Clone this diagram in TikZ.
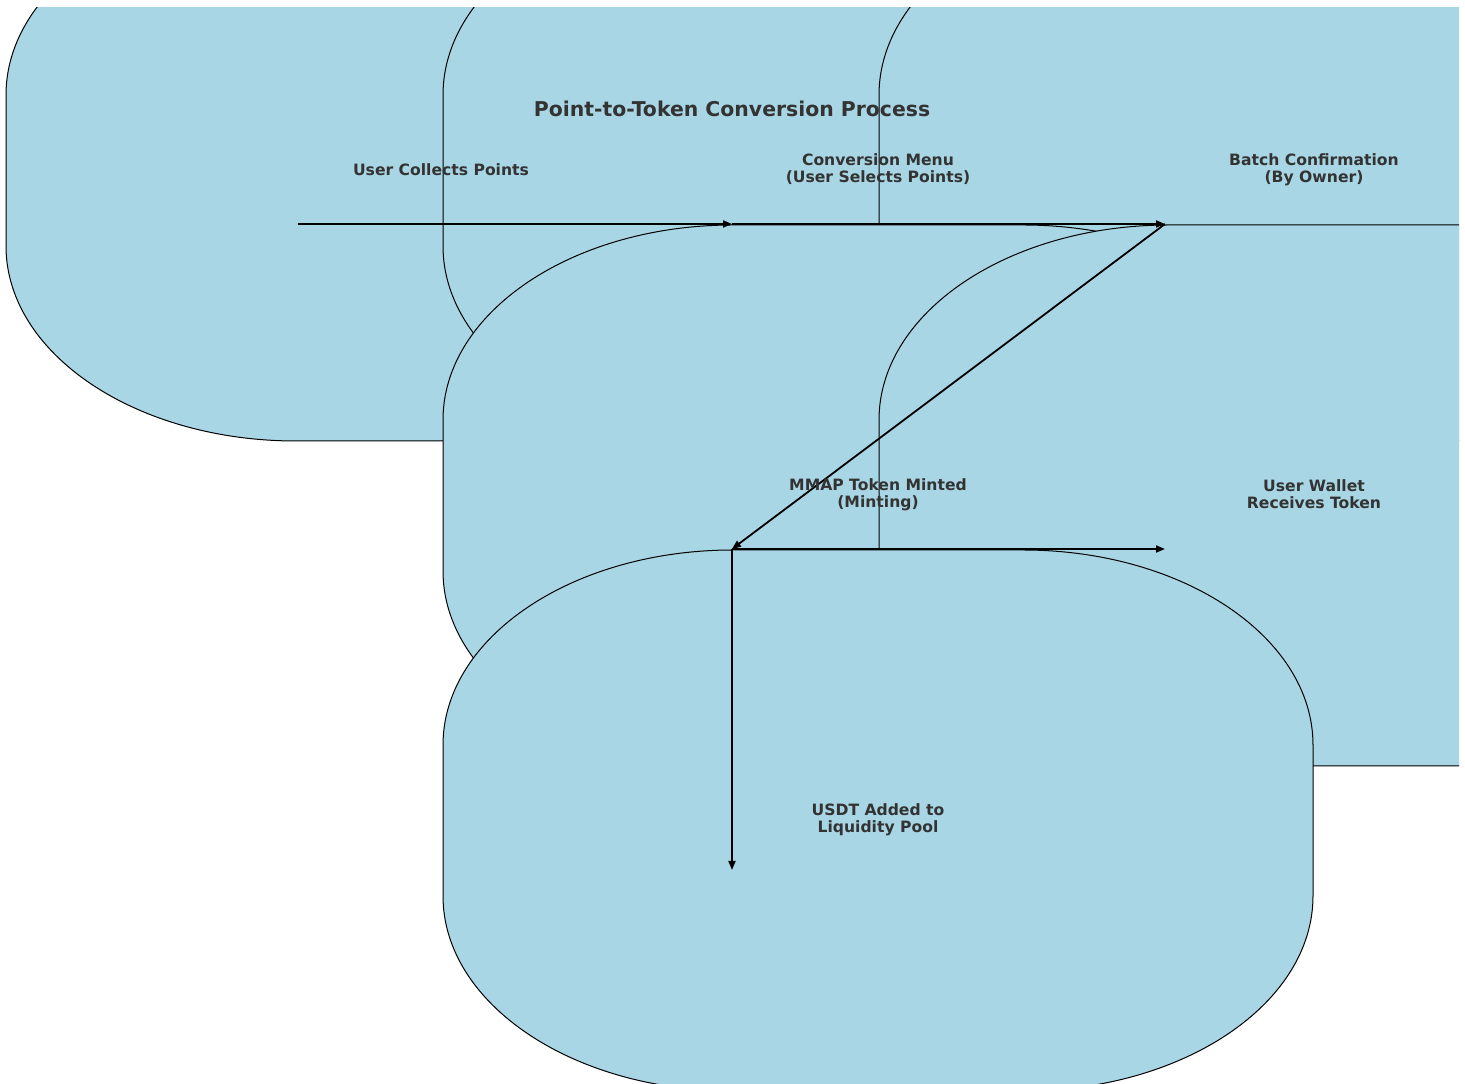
\documentclass[tikz,border=0pt]{standalone}
\usepackage{fontspec}
\setmainfont{DejaVu Sans}
\usepackage{tikz}
\usetikzlibrary{arrows.meta}
\definecolor{boxblue}{HTML}{A9D6E5}
\definecolor{text2}{HTML}{333333}

% rounded box with elliptic corners, centred on a named coordinate
\newcommand{\roundbox}[1]{%
  \path[flowbox,shift={(#1)}] (-435,-75.5) -- (-435,75.5)
    arc[start angle=180,end angle=90,x radius=290pt,y radius=195pt] -- (145,270.5)
    arc[start angle=90,end angle=0,x radius=290pt,y radius=195pt] -- (435,-75.5)
    arc[start angle=0,end angle=-90,x radius=290pt,y radius=195pt] -- (-145,-270.5)
    arc[start angle=-90,end angle=-180,x radius=290pt,y radius=195pt] -- cycle;}

\begin{document}
\begin{tikzpicture}[x=1pt,y=1pt,
          every node/.style={font=\bfseries\fontsize{15.6}{17}\selectfont,
                             text=text2,align=center,inner sep=0pt},
          flowbox/.style={draw=black,line width=1pt,fill=boxblue},
          arr/.style={-{Triangle[length=9pt,width=7pt]},line width=1.8pt},
      ]
        \useasboundingbox (0,0) rectangle (1465,1084);

        \coordinate (cCollect) at (441,913.5);
        \coordinate (cMenu)    at (878,913.5);
        \coordinate (cBatch)   at (1314,913.5);
        \coordinate (cMint)    at (878,588.5);
        \coordinate (cWallet)  at (1314,588.5);
        \coordinate (cPool)    at (878,263.5);

        \begin{scope}
          \clip (0,0) rectangle (1459,1076);
          \roundbox{cCollect}
          \roundbox{cMenu}
          \roundbox{cBatch}
          \roundbox{cMint}
          \roundbox{cWallet}
          \roundbox{cPool}
        \end{scope}

        % arrow ends
        \coordinate (pCollect) at (298,860);
        \coordinate (pMenu)    at (732,860);
        \coordinate (pBatch)   at (1165,860);
        \coordinate (pMint)    at (732,535);
        \coordinate (pWallet)  at (1165,535);
        \coordinate (pPool)    at (732,214);
        \draw[arr] (pCollect) -- (pMenu);
        \draw[arr] (pMenu) -- (pBatch);
        \draw[arr] (pBatch) -- (pMint);
        \draw[arr] (pMint) -- (pWallet);
        \draw[arr] (pMint) -- (pPool);

        \node[font=\bfseries\fontsize{20.4}{24}\selectfont] (title) at (732,975.5)
          {Point-to-Token Conversion Process};
        \node (collect) at (441,914.5) {User Collects Points};
        \node (menu) at (878,914.5) {Conversion Menu\\(User Selects Points)};
        \node (batch) at (1314,914.5) {Batch Confirmation\\(By Owner)};
        \node (mint) at (878,589.5) {MMAP Token Minted\\(Minting)};
        \node (wallet) at (1314,589.5) {User Wallet\\Receives Token};
        \node (pool) at (878,264.5) {USDT Added to\\Liquidity Pool};
      \end{tikzpicture}
\end{document}
